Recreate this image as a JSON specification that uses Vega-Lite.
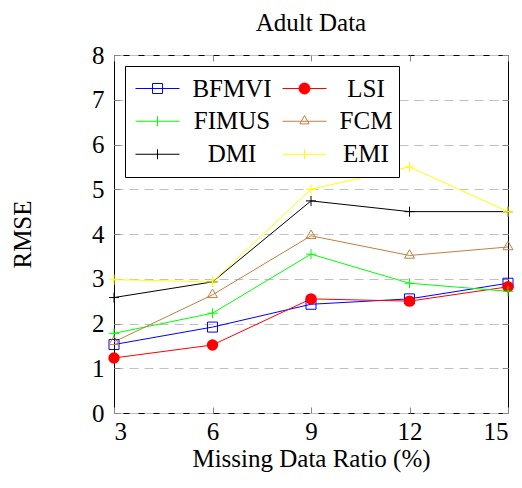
{
  "$schema": "https://vega.github.io/schema/vega-lite/v6.json",
  "width": 394,
  "height": 358,
  "autosize": {"type": "none"},
  "padding": {"left": 114, "top": 55, "right": 14, "bottom": 75},
  "config": {
    "font": "Liberation Serif",
    "view": {"stroke": "black", "strokeWidth": 1}
  },
  "title": {
    "text": "Adult Data",
    "font": "Liberation Serif",
    "fontSize": 25,
    "fontWeight": "normal",
    "color": "black",
    "frame": "group",
    "anchor": "middle",
    "offset": 7
  },
  "data": {
    "values": [
      {"method": "BFMVI", "ratio": 3, "rmse": 1.53},
      {"method": "BFMVI", "ratio": 6, "rmse": 1.92},
      {"method": "BFMVI", "ratio": 9, "rmse": 2.43},
      {"method": "BFMVI", "ratio": 12, "rmse": 2.55},
      {"method": "BFMVI", "ratio": 15, "rmse": 2.9},
      {"method": "LSI", "ratio": 3, "rmse": 1.23},
      {"method": "LSI", "ratio": 6, "rmse": 1.52},
      {"method": "LSI", "ratio": 9, "rmse": 2.55},
      {"method": "LSI", "ratio": 12, "rmse": 2.5},
      {"method": "LSI", "ratio": 15, "rmse": 2.82},
      {"method": "FIMUS", "ratio": 3, "rmse": 1.78},
      {"method": "FIMUS", "ratio": 6, "rmse": 2.23},
      {"method": "FIMUS", "ratio": 9, "rmse": 3.55},
      {"method": "FIMUS", "ratio": 12, "rmse": 2.9},
      {"method": "FIMUS", "ratio": 15, "rmse": 2.72},
      {"method": "FCM", "ratio": 3, "rmse": 1.59},
      {"method": "FCM", "ratio": 6, "rmse": 2.64},
      {"method": "FCM", "ratio": 9, "rmse": 3.96},
      {"method": "FCM", "ratio": 12, "rmse": 3.52},
      {"method": "FCM", "ratio": 15, "rmse": 3.71},
      {"method": "DMI", "ratio": 3, "rmse": 2.58},
      {"method": "DMI", "ratio": 6, "rmse": 2.93},
      {"method": "DMI", "ratio": 9, "rmse": 4.74},
      {"method": "DMI", "ratio": 12, "rmse": 4.5},
      {"method": "DMI", "ratio": 15, "rmse": 4.5},
      {"method": "EMI", "ratio": 3, "rmse": 2.98},
      {"method": "EMI", "ratio": 6, "rmse": 2.93},
      {"method": "EMI", "ratio": 9, "rmse": 5.0},
      {"method": "EMI", "ratio": 12, "rmse": 5.5},
      {"method": "EMI", "ratio": 15, "rmse": 4.5}
    ]
  },
  "encoding": {
    "color": {
      "field": "method",
      "type": "nominal",
      "scale": {
        "domain": ["BFMVI", "LSI", "FIMUS", "FCM", "DMI", "EMI"],
        "range": ["#0000ff", "#ff0000", "#00ff00", "#bf8040", "#000000", "#ffff00"]
      },
      "legend": {
        "title": null,
        "orient": "top-left",
        "direction": "horizontal",
        "offset": 11,
        "columns": 2,
        "labelFont": "Liberation Serif",
        "labelFontSize": 25,
        "labelColor": "black",
        "labelAlign": "center",
        "labelBaseline": "middle",
        "labelOffset": 52,
        "labelLimit": 0,
        "symbolSize": 1936,
        "symbolOffset": 4,
        "symbolStrokeWidth": 1,
        "columnPadding": 6,
        "rowPadding": 0,
        "clipHeight": 32.5,
        "padding": 6,
        "strokeColor": "black",
        "fillColor": "white",
        "cornerRadius": 0,
        "encode": {
          "symbols": {
            "update": {
              "shape": {"signal": "datum.value === 'BFMVI' ? 'M-1,0H1M-0.227,-0.227H0.227V0.227H-0.227Z' : datum.value === 'LSI' ? 'M-1,0H1M-0.25,0A0.25,0.25,0,1,1,0.25,0A0.25,0.25,0,1,1,-0.25,0Z' : datum.value === 'FCM' ? 'M-1,0H1M0,-0.26L0.21,0.12H-0.21Z' : 'M-1,0H1M0,-0.227V0.227'"},
              "fill": {"signal": "datum.value === 'LSI' ? '#ff0000' : 'transparent'"},
              "fillOpacity": {"signal": "datum.value === 'LSI' ? 1 : 0"},
              "stroke": {"signal": "scale('color', datum.value)"},
              "strokeWidth": {"value": 1},
              "opacity": {"value": 1}
            }
          },
          "labels": {
            "update": {
              "dx": {"signal": "indexof(['LSI','FCM','EMI'], datum.value) >= 0 ? -13 : 0"}
            }
          }
        }
      }
    }
  },
  "layer": [
    {
      "mark": {"type": "line", "strokeWidth": 1},
      "encoding": {
        "x": {
          "field": "ratio", "type": "quantitative",
          "scale": {"domain": [3, 15], "nice": false, "zero": false},
          "axis": {"orient": "top", "values": [3, 6, 9, 12, 15], "labels": false, "domain": false, "grid": false, "title": null, "ticks": true, "tickSize": -6, "tickColor": "#888888"}
        },
        "y": {
          "field": "rmse", "type": "quantitative",
          "scale": {"domain": [0, 8], "nice": false, "zero": true},
          "axis": {"orient": "right", "values": [0, 1, 2, 3, 4, 5, 6, 7, 8], "labels": false, "domain": false, "grid": false, "title": null, "ticks": true, "tickSize": -6, "tickColor": "#888888"}
        }
      }
    },
    {
      "transform": [{"filter": "datum.method === 'BFMVI'"}],
      "mark": {"type": "point", "shape": "M-1,-1H1V1H-1Z", "filled": false, "size": 100, "strokeWidth": 1, "opacity": 1},
      "encoding": {
        "x": {
          "field": "ratio", "type": "quantitative",
          "scale": {"domain": [3, 15], "nice": false, "zero": false},
          "axis": {
            "orient": "bottom", "values": [3, 6, 9, 12, 15], "domain": false, "grid": false,
            "ticks": true, "tickSize": -6, "tickColor": "#888888",
            "labelFont": "Liberation Serif", "labelFontSize": 25, "labelColor": "black", "labelPadding": 12,
            "title": "Missing Data Ratio (%)", "titleFont": "Liberation Serif", "titleFontSize": 25,
            "titleFontWeight": "normal", "titleColor": "black", "titlePadding": 2
          }
        },
        "y": {
          "field": "rmse", "type": "quantitative",
          "scale": {"domain": [0, 8], "nice": false, "zero": true},
          "axis": {
            "orient": "left", "values": [0, 1, 2, 3, 4, 5, 6, 7, 8], "domain": false,
            "grid": true, "gridDash": [9, 6], "gridColor": "#c0c0c0", "gridWidth": 1,
            "ticks": true, "tickSize": -6, "tickColor": "#888888",
            "labelFont": "Liberation Serif", "labelFontSize": 25, "labelColor": "black", "labelPadding": 16,
            "title": "RMSE", "titleFont": "Liberation Serif", "titleFontSize": 25,
            "titleFontWeight": "normal", "titleColor": "black", "titlePadding": 56
          }
        }
      }
    },
    {
      "transform": [{"filter": "datum.method === 'LSI'"}],
      "mark": {"type": "point", "shape": "circle", "filled": true, "size": 130, "opacity": 1},
      "encoding": {
        "x": {"field": "ratio", "type": "quantitative", "axis": null},
        "y": {"field": "rmse", "type": "quantitative", "axis": null}
      }
    },
    {
      "transform": [{"filter": "datum.method === 'FIMUS' || datum.method === 'DMI' || datum.method === 'EMI'"}],
      "mark": {"type": "point", "shape": "M-1,0H1M0,-1V1", "filled": false, "size": 100, "strokeWidth": 1, "opacity": 1},
      "encoding": {
        "x": {"field": "ratio", "type": "quantitative", "axis": null},
        "y": {"field": "rmse", "type": "quantitative", "axis": null}
      }
    },
    {
      "transform": [{"filter": "datum.method === 'FCM'"}],
      "mark": {"type": "point", "shape": "M0,-1.15L1,0.55H-1Z", "filled": false, "size": 100, "strokeWidth": 1, "opacity": 1},
      "encoding": {
        "x": {"field": "ratio", "type": "quantitative", "axis": null},
        "y": {"field": "rmse", "type": "quantitative", "axis": null}
      }
    }
  ],
  "resolve": {"axis": {"x": "independent", "y": "independent"}}
}
